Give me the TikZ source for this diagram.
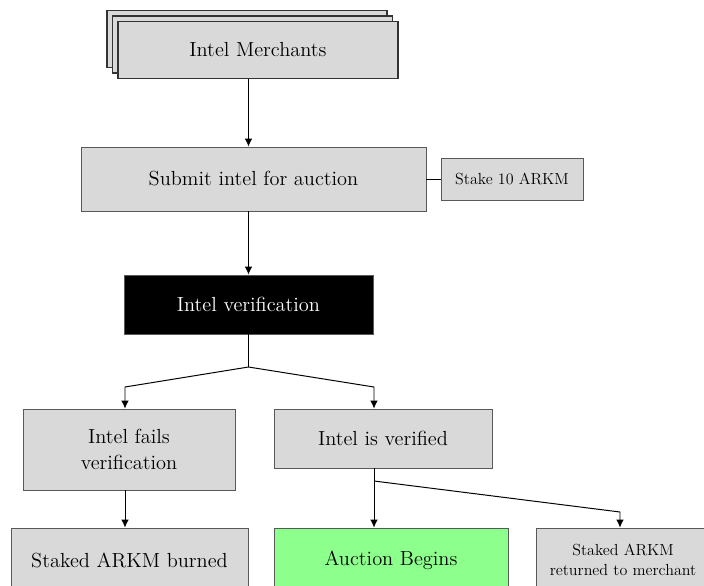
\documentclass[tikz,border=0pt]{standalone}
\usepackage{fontspec}
\usetikzlibrary{positioning,arrows.meta}

\begin{document}
\begin{tikzpicture}[
    font=\fontsize{14.5}{19}\selectfont,
    box/.style={draw=black!65, fill=gray!30, align=center, inner sep=2mm, line width=0.6pt},
    stack/.style={box, draw=black!80, line width=1pt, minimum width=70mm, minimum height=14.25mm},
    smallbox/.style={box, font=\fontsize{11.4}{14}\selectfont},
    dark/.style={box, fill=black, text=white},
    go/.style={box, fill=green!45},
    flow/.style={-{Latex[length=2mm,width=1.9mm]}, line width=0.7pt},
    link/.style={line width=0.7pt},
  ]

  % Page frame (bottom row runs off the page)
  \useasboundingbox (0,0) rectangle (17.6,-14.625);
  \clip (0,0) rectangle (17.6,-14.625);

  % Merchants: stacked cards
  \node[stack] (merch2) at (6.17,-0.97) {};
  \node[stack] (merch1) at (6.31,-1.11) {};
  \node[stack] (merch)  at (6.45,-1.25) {Intel Merchants};

  % Submission and stake
  \node[box, minimum width=86.25mm, minimum height=16mm] (submit) at (6.3375,-4.475) {Submit intel for auction};
  \node[smallbox, minimum width=35.5mm, minimum height=10.5mm] (stake) at (12.8,-4.475) {Stake 10 ARKM};

  % Verification
  \node[dark, minimum width=62.25mm, minimum height=14.75mm] (verif) at (6.2125,-7.6125) {Intel verification};

  % Outcomes
  \node[box, minimum width=53mm, minimum height=20.25mm] (fails) at (3.225,-11.2375) {Intel fails\\ verification};
  \node[box, minimum width=54.5mm, minimum height=14.75mm] (verified) at (9.575,-10.9625) {Intel is verified};

  % Bottom row
  \node[box, minimum width=59.25mm, minimum height=16mm] (burned) at (3.2375,-14.0) {Staked ARKM burned};
  \node[go, minimum width=58.5mm, minimum height=16mm] (auction) at (9.775,-14.0) {Auction Begins};
  \node[smallbox, minimum width=43.5mm, minimum height=16mm] (returned) at (15.575,-14.0) {Staked ARKM\\ returned to merchant};

  % Bend points
  \coordinate (fork)    at (6.2125,-9.175);
  \coordinate (failsin) at (3.125,-9.675);
  \coordinate (verin)   at (9.35,-9.675);
  \coordinate (split)   at (9.35,-12.025);
  \coordinate (retin)   at (15.5,-12.8);

  % Connectors
  \draw[flow] (merch.south -| verif) -- (submit.north -| verif);
  \draw[link] (submit) -- (stake);
  \draw[flow] (submit.south -| verif) -- (verif);
  \draw[link] (verif.south) -- (fork);
  \draw[flow] (fork) -- (failsin) -- (fails.north -| failsin);
  \draw[flow] (fork) -- (verin) -- (verified.north -| verin);
  \draw[flow] (fails.south -| failsin) -- (burned.north -| failsin);
  \draw[flow] (verified.south -| split) -- (auction.north -| split);
  \draw[flow] (split) -- (retin) -- (returned.north -| retin);

\end{tikzpicture}
\end{document}
